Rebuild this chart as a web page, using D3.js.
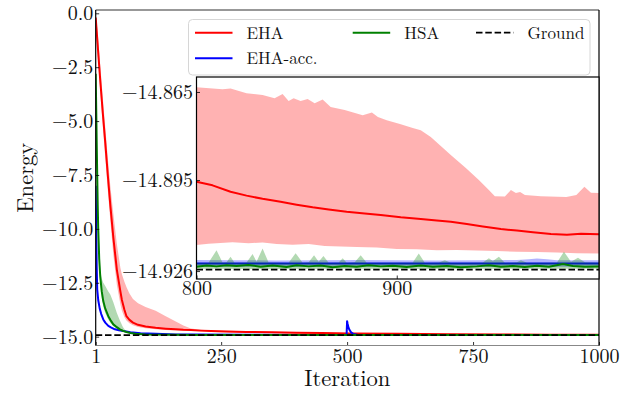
<!DOCTYPE html>
<html><head><meta charset="utf-8">
<script src="https://cdn.jsdelivr.net/npm/d3@7"></script>
<style>body{margin:0;background:#fff}svg{display:block}text{font-family:"Latin Modern Roman","Liberation Serif",serif;fill:#111}</style>
</head><body><svg id="c" width="640" height="397"></svg>
<script>
// ---------- DATA ----------
const ground = -14.9255;
const xTicksMain = [1, 250, 500, 750, 1000];
const yTicksMain = [0, -2.5, -5, -7.5, -10, -12.5, -15];
const xTicksInset = [800, 900];
const yTicksInset = [-14.865, -14.895, -14.926];

const ehaIter = [1,5,10,15,20,25,30,36,43,50,53,58,62,68,75,85,100,120,140,160,175,190,210,230,260,300,350,400,450,500,600,700,800,900,1000];
const ehaMean = [-0.2,-1.5,-3.1,-4.6,-6.0,-7.5,-8.9,-10.4,-11.9,-12.9,-13.3,-13.75,-14.05,-14.22,-14.35,-14.45,-14.53,-14.59,-14.63,-14.66,-14.68,-14.69,-14.72,-14.74,-14.76,-14.78,-14.8,-14.82,-14.835,-14.85,-14.87,-14.885,-14.8956,-14.908,-14.9135];
const ehaHi = [0.0,-0.9,-2.4,-3.9,-5.3,-6.7,-8.0,-9.3,-10.7,-11.8,-12.1,-12.45,-12.7,-13.0,-13.25,-13.45,-13.62,-13.8,-14.05,-14.3,-14.48,-14.62,-14.68,-14.71,-14.73,-14.75,-14.77,-14.79,-14.8,-14.82,-14.84,-14.85,-14.863,-14.876,-14.899];
const ehaLo = [-0.5,-2.0,-3.6,-5.2,-6.7,-8.2,-9.6,-11.2,-12.6,-13.5,-13.8,-14.1,-14.25,-14.38,-14.47,-14.55,-14.61,-14.66,-14.69,-14.71,-14.73,-14.74,-14.76,-14.78,-14.8,-14.82,-14.84,-14.86,-14.87,-14.88,-14.895,-14.905,-14.917,-14.9185,-14.92];

const hsaIter = [1,2,3,4,5,6,8,10,13,16,20,26,30,36,43,49,55,62,70,80,100,150,200,300,500,800,1000];
const hsaMean = [-2.8,-4.4,-6.0,-7.5,-8.9,-10.0,-11.4,-12.2,-12.9,-13.35,-13.7,-14.05,-14.22,-14.43,-14.56,-14.66,-14.73,-14.78,-14.83,-14.87,-14.9,-14.915,-14.92,-14.922,-14.923,-14.924,-14.924];
const hsaHi = [-2.6,-4.0,-5.5,-7.0,-8.4,-9.5,-10.9,-11.9,-12.3,-12.5,-12.65,-12.9,-13.05,-13.4,-13.9,-14.25,-14.55,-14.78,-14.82,-14.86,-14.895,-14.91,-14.915,-14.918,-14.92,-14.921,-14.921];
const hsaLo = [-3.0,-4.8,-6.5,-8.0,-9.4,-10.5,-11.8,-12.5,-13.2,-13.6,-13.9,-14.2,-14.35,-14.52,-14.63,-14.71,-14.77,-14.81,-14.86,-14.89,-14.91,-14.92,-14.923,-14.924,-14.925,-14.925,-14.925];

const accIter = [1,2,3,4,6,9,12,16,20,26,32,39,47,56,70,90,120,160,200,300,400,499,500,501,502,503,505,508,512,520,530,600,800,1000];
const accMean = [-8.0,-10.0,-11.8,-12.8,-13.3,-13.7,-13.95,-14.2,-14.35,-14.5,-14.58,-14.66,-14.7,-14.74,-14.79,-14.84,-14.87,-14.895,-14.905,-14.915,-14.92,-14.922,-14.28,-14.4,-14.5,-14.6,-14.7,-14.8,-14.87,-14.91,-14.918,-14.92,-14.9234,-14.9234];
const accHi = [-7.9,-9.9,-11.7,-12.7,-13.22,-13.63,-13.9,-14.15,-14.31,-14.47,-14.56,-14.64,-14.69,-14.73,-14.78,-14.83,-14.865,-14.89,-14.9,-14.912,-14.918,-14.92,-14.26,-14.38,-14.48,-14.58,-14.68,-14.78,-14.86,-14.9,-14.915,-14.918,-14.9222,-14.9223];
const accLo = [-8.1,-10.1,-11.9,-12.9,-13.38,-13.77,-14.0,-14.25,-14.39,-14.53,-14.6,-14.68,-14.71,-14.75,-14.8,-14.85,-14.875,-14.9,-14.91,-14.918,-14.922,-14.924,-14.3,-14.42,-14.52,-14.62,-14.72,-14.82,-14.88,-14.92,-14.921,-14.922,-14.9245,-14.9245];

// inset (iteration, energy) pairs
const insEhaMean = [[800,-14.8956],[808,-14.8968],[817,-14.8990],[825,-14.9003],[833,-14.9014],[842,-14.9024],[850,-14.9034],[858,-14.9043],[866,-14.9050],[875,-14.9058],[884,-14.9064],[892,-14.9069],[902,-14.9077],[912,-14.9083],[920,-14.9088],[927,-14.9092],[935,-14.9100],[943,-14.9108],[952,-14.9117],[960,-14.9122],[968,-14.9128],[977,-14.9134],[985,-14.9136],[992,-14.9133],[1001,-14.9135]];
const insEhaHi = [[800,-14.8634],[813,-14.8641],[817,-14.8638],[825,-14.8654],[833,-14.8660],[839,-14.8671],[843,-14.8657],[846,-14.8681],[848.5,-14.8671],[852,-14.8681],[855.5,-14.8674],[859,-14.8688],[863,-14.8676],[867,-14.8701],[874,-14.8711],[883,-14.8729],[887.6,-14.8720],[890.6,-14.8735],[895,-14.8746],[901.6,-14.8759],[908,-14.8773],[912,-14.8780],[917,-14.8803],[927,-14.8865],[934.5,-14.8909],[941,-14.8950],[946,-14.8984],[949,-14.9005],[954,-14.9006],[957,-14.8984],[959.5,-14.8994],[961.6,-14.8991],[964,-14.9001],[972,-14.9005],[984.7,-14.9008],[989.7,-14.9001],[993.7,-14.8973],[997,-14.8993],[1001,-14.8994]];
const insEhaLo = [[800,-14.9171],[806,-14.9167],[812,-14.9164],[818,-14.9162],[826,-14.9165],[833,-14.9163],[840,-14.9168],[848,-14.9170],[856,-14.9168],[864,-14.9175],[872,-14.9176],[880,-14.9178],[890,-14.9180],[900,-14.9185],[910,-14.9186],[920,-14.9189],[930,-14.9188],[940,-14.9190],[950,-14.9192],[960,-14.9194],[970,-14.9195],[980,-14.9197],[990,-14.9199],[1001,-14.9200]];
const insAccMean = [[800,-14.9234],[850,-14.9234],[900,-14.9234],[950,-14.9234],[1001,-14.9234]];
const insAccHi = [[800,-14.9222],[820,-14.9223],[840,-14.9224],[860,-14.9223],[880,-14.9222],[900,-14.9223],[920,-14.9224],[940,-14.9223],[960,-14.9222],[966,-14.9220],[970,-14.9217],[975,-14.9220],[980,-14.9223],[1001,-14.9223]];
const insAccLo = [[800,-14.9245],[850,-14.9246],[900,-14.9245],[950,-14.9246],[1001,-14.9245]];
const insHsaMean = [[800,-14.9245],[805,-14.9241],[810,-14.9244],[815,-14.9240],[820,-14.9243],[826,-14.9239],[832,-14.9245],[838,-14.9241],[845,-14.9246],[850,-14.9240],[856,-14.9244],[862,-14.9241],[868,-14.9247],[874,-14.9243],[880,-14.9245],[886,-14.9240],[892,-14.9244],[898,-14.9242],[905,-14.9246],[912,-14.9241],[918,-14.9245],[925,-14.9243],[932,-14.9247],[940,-14.9244],[946,-14.9240],[952,-14.9245],[958,-14.9243],[964,-14.9246],[970,-14.9242],[976,-14.9245],[983,-14.9236],[988,-14.9243],[994,-14.9245],[1001,-14.9244]];
const insHsaHi = [[800,-14.9232],[806,-14.9232],[810,-14.9189],[813,-14.9231],[815,-14.9230],[817,-14.9211],[819,-14.9232],[825,-14.9231],[828,-14.9202],[830,-14.9228],[833,-14.9183],[836,-14.9231],[846,-14.9232],[849.5,-14.9199],[853,-14.9232],[856,-14.9230],[858.7,-14.9206],[861,-14.9228],[863.4,-14.9209],[866,-14.9232],[871,-14.9231],[873,-14.9216],[875,-14.9232],[879,-14.9230],[882,-14.9206],[885,-14.9232],[908,-14.9231],[911,-14.9200],[914,-14.9232],[921,-14.9231],[924,-14.9223],[927,-14.9232],[943,-14.9231],[946,-14.9216],[948,-14.9226],[951,-14.9211],[954,-14.9232],[960,-14.9230],[962,-14.9223],[965,-14.9232],[980,-14.9231],[983.5,-14.9194],[987,-14.9228],[990.5,-14.9215],[994,-14.9230],[1001,-14.9231]];
const insHsaLo = [[800,-14.9252],[840,-14.9253],[880,-14.9252],[920,-14.9253],[960,-14.9252],[1001,-14.9252]];

const legendItems = [
  {label:"EHA", color:"#ff0000", dash:null, col:0, row:0},
  {label:"HSA", color:"#008000", dash:null, col:1, row:0},
  {label:"Ground", color:"#000000", dash:"6.5,2.8", col:2, row:0},
  {label:"EHA-acc.", color:"#0000ff", dash:null, col:0, row:1}
];

// ---------- DRAW ----------
const FONT = '"Latin Modern Roman","Liberation Serif",serif';
const svg = d3.select("#c");
const M = {l:95.7, r:599, t:10, b:345.5};
const I = {l:196.5, r:599, t:77, b:279};
const x = d3.scaleLinear().domain([1,1000]).range([M.l, M.r]);
const y = d3.scaleLinear().domain([-15.41, 0.153]).range([M.b, M.t]);
const xi = d3.scaleLinear().domain([800,1001]).range([I.l, I.r]);
const yi = d3.scaleLinear().domain([-14.9287, -14.8599]).range([I.b, I.t]);

const defs = svg.append("defs");
defs.append("clipPath").attr("id","cm").append("rect").attr("x",M.l).attr("y",M.t).attr("width",M.r-M.l).attr("height",M.b-M.t);
defs.append("clipPath").attr("id","ci").append("rect").attr("x",I.l).attr("y",I.t).attr("width",I.r-I.l).attr("height",I.b-I.t);

const zip = (xs, ys) => xs.map((v,i)=>[v, ys[i]]);
function band(g, sx, sy, hi, lo, color){
  const pts = hi.concat(lo.slice().reverse());
  g.append("path").attr("d", d3.line().x(d=>sx(d[0])).y(d=>sy(d[1]))(pts)+"Z")
    .attr("fill", color).attr("fill-opacity",0.3).attr("stroke","none");
}
function line(g, sx, sy, pts, color, w, dash){
  const p = g.append("path").attr("d", d3.line().x(d=>sx(d[0])).y(d=>sy(d[1]))(pts))
    .attr("fill","none").attr("stroke",color).attr("stroke-width",w).attr("stroke-linejoin","round");
  if(dash) p.attr("stroke-dasharray",dash);
}
function styleAxis(a){
  a.attr("font-family",null).attr("font-size",null);
  a.select(".domain").remove();
  a.selectAll(".tick line").attr("stroke","#000").attr("stroke-width",0.8);
  a.selectAll(".tick text").style("font-family",FONT).style("font-size","20px").attr("fill","#111");
}

// main plot
const gm = svg.append("g").attr("clip-path","url(#cm)");
band(gm, x, y, zip(ehaIter, ehaHi), zip(ehaIter, ehaLo), "#ff0000");
line(gm, x, y, zip(ehaIter, ehaMean), "#ff0000", 2);
band(gm, x, y, zip(accIter, accHi), zip(accIter, accLo), "#0000ff");
line(gm, x, y, zip(accIter, accMean), "#0000ff", 2);
band(gm, x, y, zip(hsaIter, hsaHi), zip(hsaIter, hsaLo), "#008000");
line(gm, x, y, zip(hsaIter, hsaMean), "#008000", 2);
line(gm, x, y, [[1,ground],[1000,ground]], "#000", 1.75, "6.5,2.8");

// main axes
styleAxis(svg.append("g").attr("transform",`translate(0,${M.b})`)
  .call(d3.axisBottom(x).tickValues(xTicksMain).tickFormat(d3.format("d")).tickSizeInner(-3.5).tickSizeOuter(0).tickPadding(3)));
styleAxis(svg.append("g").attr("transform",`translate(${M.l},0)`)
  .call(d3.axisLeft(y).tickValues(yTicksMain).tickFormat(d3.format(".1f")).tickSizeInner(-3.5).tickSizeOuter(0).tickPadding(2.5)));
svg.append("line").attr("x1",M.l).attr("x2",M.r).attr("y1",M.b).attr("y2",M.b).attr("stroke","#888").attr("stroke-width",1.2);
svg.append("line").attr("x1",M.l).attr("x2",M.r).attr("y1",M.t).attr("y2",M.t).attr("stroke","#333").attr("stroke-width",1.2);
svg.append("line").attr("x1",M.l).attr("x2",M.l).attr("y1",M.t).attr("y2",M.b).attr("stroke","#000").attr("stroke-width",1.2);
svg.append("line").attr("x1",M.r).attr("x2",M.r).attr("y1",M.t).attr("y2",M.b).attr("stroke","#000").attr("stroke-width",1.2);

svg.append("text").attr("transform",`translate(33,${(M.t+M.b)/2}) rotate(-90)`).attr("text-anchor","middle").style("font-size","22.6px").text("Energy");
svg.append("text").attr("x",(M.l+M.r)/2).attr("y",386).attr("text-anchor","middle").style("font-size","22.6px").text("Iteration");

// legend
const lg = svg.append("g");
lg.append("rect").attr("x",188.5).attr("y",19.5).attr("width",401.5).attr("height",55.5).attr("rx",4)
  .attr("fill","#fff").attr("fill-opacity",0.8).attr("stroke","#d6d6d6").attr("stroke-width",1);
const colX = [195, 352.7, 476];
const rowY = [32.7, 58.3];
legendItems.forEach(it=>{
  const lx = colX[it.col], ly = rowY[it.row];
  const l = lg.append("line").attr("x1",lx).attr("x2",lx+37.5).attr("y1",ly).attr("y2",ly)
    .attr("stroke",it.color).attr("stroke-width",it.dash?1.75:2);
  if(it.dash) l.attr("stroke-dasharray",it.dash);
  lg.append("text").attr("x",lx+51.5).attr("y",ly+5.8).style("font-size","17px").text(it.label);
});

// inset
svg.append("rect").attr("x",I.l).attr("y",I.t).attr("width",I.r-I.l).attr("height",I.b-I.t).attr("fill","#fff");
const gi = svg.append("g").attr("clip-path","url(#ci)");
band(gi, xi, yi, insEhaHi, insEhaLo, "#ff0000");
line(gi, xi, yi, insEhaMean, "#ff0000", 2);
band(gi, xi, yi, insAccHi, insAccLo, "#0000ff");
line(gi, xi, yi, insAccMean, "#0000ff", 2);
band(gi, xi, yi, insHsaHi, insHsaLo, "#008000");
line(gi, xi, yi, insHsaMean, "#008000", 2);
line(gi, xi, yi, [[800,ground],[1001,ground]], "#000", 1.75, "6.5,2.8");

styleAxis(svg.append("g").attr("transform",`translate(0,${I.b})`)
  .call(d3.axisBottom(xi).tickValues(xTicksInset).tickFormat(d3.format("d")).tickSizeInner(-3.5).tickSizeOuter(0).tickPadding(2)));
styleAxis(svg.append("g").attr("transform",`translate(${I.l},0)`)
  .call(d3.axisLeft(yi).tickValues(yTicksInset).tickFormat(d3.format(".3f")).tickSizeInner(-3.5).tickSizeOuter(0).tickPadding(3.5)));
svg.append("rect").attr("x",I.l).attr("y",I.t).attr("width",I.r-I.l).attr("height",I.b-I.t)
  .attr("fill","none").attr("stroke","#000").attr("stroke-width",1.2);
</script></body></html>
